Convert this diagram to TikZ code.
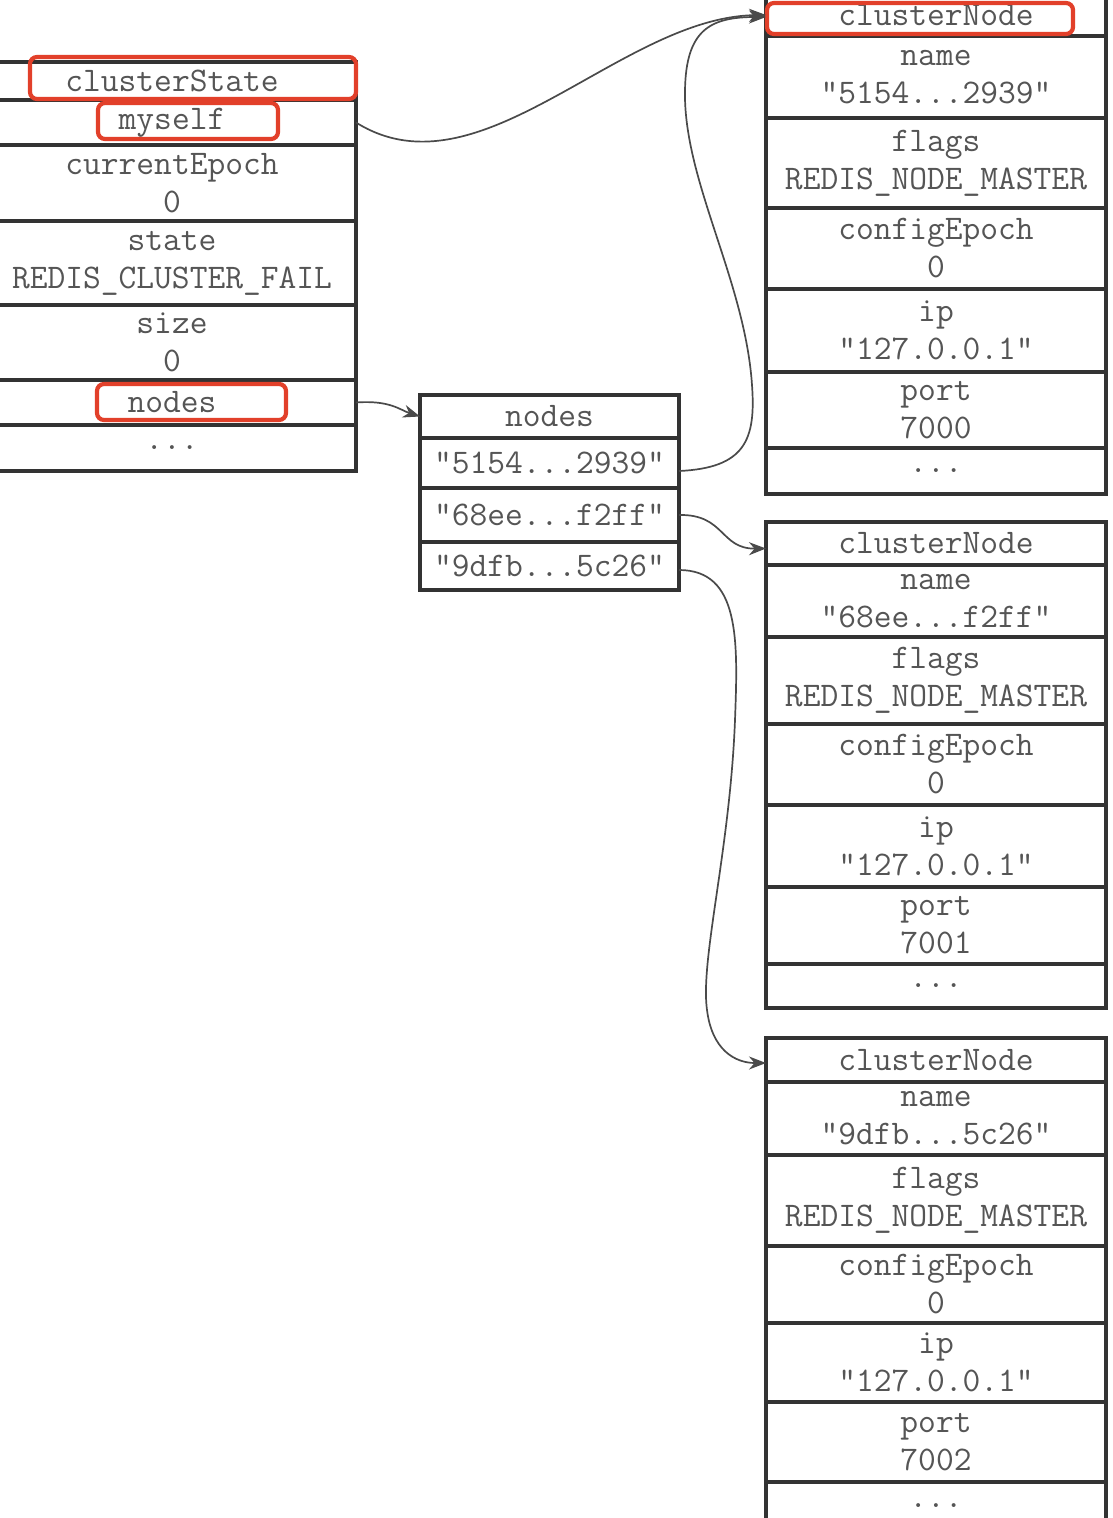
\documentclass[tikz,border=0pt]{standalone}
\usepackage{fontspec}
\usetikzlibrary{arrows.meta}
\definecolor{linec}{HTML}{333333}
\definecolor{textc}{HTML}{555555}
\definecolor{connc}{HTML}{4A4A4A}
\definecolor{redc}{HTML}{E2402A}
\tikzset{
  cell/.style={draw=linec, line width=3.4pt, inner sep=0pt, outer sep=0pt,
    anchor=north west, align=center, text=textc,
    font=\ttfamily\fontsize{34.5pt}{38pt}\selectfont},
  conn/.style={draw=connc, line width=1.7pt, -{Stealth[length=17pt,width=13pt]}},
  redbox/.style={draw=redc, line width=4.2pt, rounded corners=7pt}
}
\newcommand\cellrow[6]{\node[cell, minimum width=#4pt, minimum height=#5pt] (#1) at (#2,#3) {#6};}
\begin{document}
\begin{tikzpicture}[x=1pt,y=-1pt]
\useasboundingbox[fill=white] (0,0) rectangle (1112,1518);
% clusterState
\cellrow{cshead}{-12}{62}{368}{38}{clusterState}
\cellrow{csmyself}{-12}{100}{368}{45}{myself}
\cellrow{csepoch}{-12}{145}{368}{76}{currentEpoch\\0}
\cellrow{csstate}{-12}{221}{368}{84}{state\\REDIS\_CLUSTER\_FAIL}
\cellrow{cssize}{-12}{305}{368}{75}{size\\0}
\cellrow{csnodes}{-12}{380}{368}{45}{nodes}
\cellrow{csmore}{-12}{425}{368}{46}{...}
% nodes dict
\cellrow{ndhead}{420}{395}{259}{43}{nodes}
\cellrow{nda}{420}{438}{259}{50}{"5154...2939"}
\cellrow{ndb}{420}{488}{259}{54}{"68ee...f2ff"}
\cellrow{ndc}{420}{542}{259}{48}{"9dfb...5c26"}
% clusterNode 1
\cellrow{cnahead}{766}{-6}{340}{42}{\raisebox{-2pt}{clusterNode}}
\cellrow{cnaname}{766}{36}{340}{82}{name\\"5154...2939"}
\cellrow{cnaflags}{766}{118}{340}{90}{flags\\REDIS\_NODE\_MASTER}
\cellrow{cnacep}{766}{208}{340}{81}{configEpoch\\0}
\cellrow{cnaip}{766}{289}{340}{83}{ip\\"127.0.0.1"}
\cellrow{cnaport}{766}{372}{340}{76}{port\\7000}
\cellrow{cnamore}{766}{448}{340}{46}{...}
% clusterNode 2
\cellrow{cnbhead}{766}{522}{340}{43}{clusterNode}
\cellrow{cnbname}{766}{565}{340}{72}{name\\"68ee...f2ff"}
\cellrow{cnbflags}{766}{637}{340}{87}{flags\\REDIS\_NODE\_MASTER}
\cellrow{cnbcep}{766}{724}{340}{81}{configEpoch\\0}
\cellrow{cnbip}{766}{805}{340}{82}{ip\\"127.0.0.1"}
\cellrow{cnbport}{766}{887}{340}{77}{port\\7001}
\cellrow{cnbmore}{766}{964}{340}{44}{...}
% clusterNode 3
\cellrow{cnchead}{766}{1038}{340}{44}{clusterNode}
\cellrow{cncname}{766}{1082}{340}{73}{name\\"9dfb...5c26"}
\cellrow{cncflags}{766}{1155}{340}{91}{flags\\REDIS\_NODE\_MASTER}
\cellrow{cnccep}{766}{1246}{340}{77}{configEpoch\\0}
\cellrow{cncip}{766}{1323}{340}{79}{ip\\"127.0.0.1"}
\cellrow{cncport}{766}{1402}{340}{80}{port\\7002}
\cellrow{cncmore}{766}{1482}{340}{60}{\raisebox{12pt}{...}}
% red highlight boxes
\draw[redbox] (30,57) rectangle (356,99);
\draw[redbox] (98,103) rectangle (278,139);
\draw[redbox] (97,384) rectangle (286,420);
\draw[redbox] (767,3) rectangle (1073,34);
% connectors
\draw[conn] (csmyself.east) .. controls (480,200) and (620,17) .. (cnahead.west);
\draw[conn] ([yshift=-8pt]nda.east) .. controls (745,468) and (756,440) .. (752,385)
  .. controls (745,280) and (683,180) .. (685,90)
  .. controls (686,30) and (710,17) .. ([yshift=-2pt]cnahead.west);
\draw[conn] (ndb.east) .. controls (725,514) and (720,549) .. ([yshift=-5pt]cnbhead.west);
\draw[conn] ([yshift=-4pt]ndc.east) .. controls (740,570) and (738,640) .. (735,720)
  .. controls (730,850) and (700,960) .. (707,1010)
  .. controls (712,1050) and (735,1063) .. ([yshift=-3pt]cnchead.west);
\draw[conn] (csnodes.east) .. controls (390,400) and (400,410) .. (ndhead.west);
\end{tikzpicture}
\end{document}
